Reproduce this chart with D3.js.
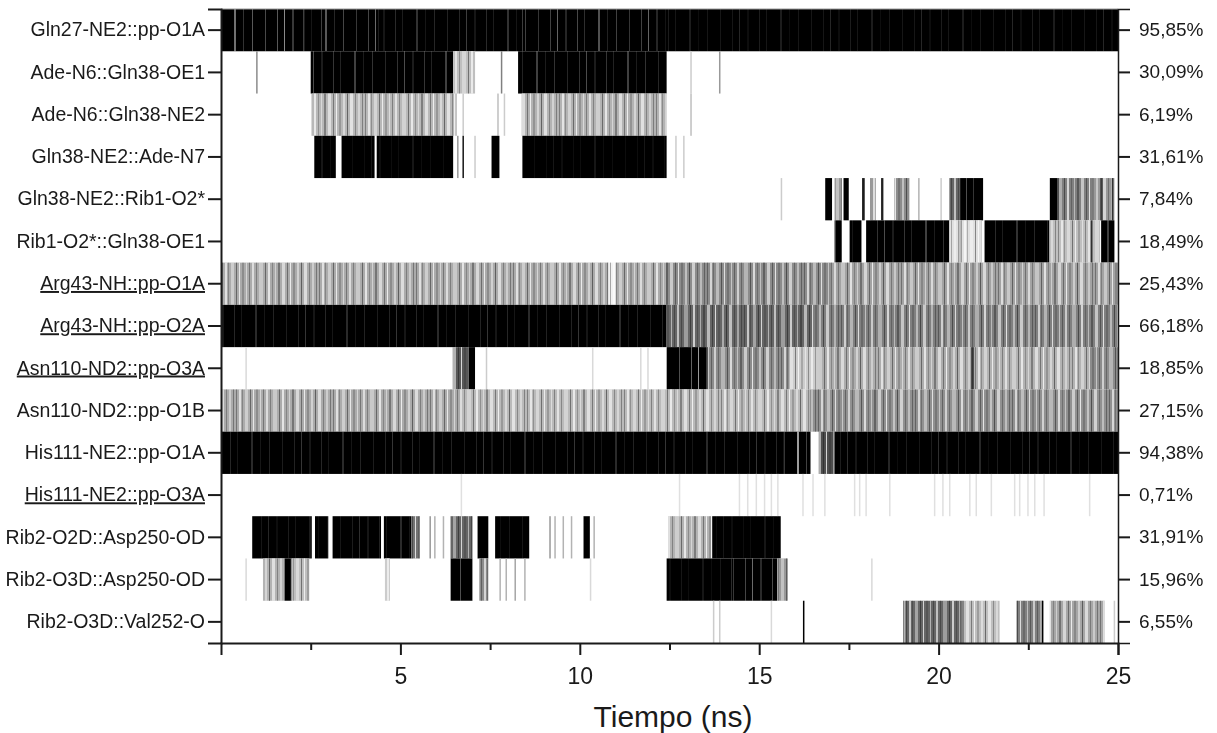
<!DOCTYPE html>
<html><head><meta charset="utf-8">
<script src="https://cdn.jsdelivr.net/npm/d3@7"></script>
<style>
body{margin:0;background:#fff;}
svg{display:block;}
text{font-family:"Liberation Sans", Arial, sans-serif;fill:#1a1a1a;}
</style>
</head><body>
<svg id="c" width="1217" height="733"></svg>
<script>
// ---------------- data ----------------
const rowLabels = [
  "Gln27-NE2::pp-O1A", "Ade-N6::Gln38-OE1", "Ade-N6::Gln38-NE2", "Gln38-NE2::Ade-N7",
  "Gln38-NE2::Rib1-O2*", "Rib1-O2*::Gln38-OE1", "Arg43-NH::pp-O1A", "Arg43-NH::pp-O2A",
  "Asn110-ND2::pp-O3A", "Asn110-ND2::pp-O1B", "His111-NE2::pp-O1A", "His111-NE2::pp-O3A",
  "Rib2-O2D::Asp250-OD", "Rib2-O3D::Asp250-OD", "Rib2-O3D::Val252-O"
];
const rowPercents = [
  "95,85%", "30,09%", "6,19%", "31,61%", "7,84%", "18,49%", "25,43%", "66,18%",
  "18,85%", "27,15%", "94,38%", "0,71%", "31,91%", "15,96%", "6,55%"
];
const underlinedRows = [6, 7, 8, 11];

// occupied intervals per row: [start ns, end ns, darkness 0..1]
const rowSegments = [
  [[0,2.3,0.82],[2.3,2.8,0.95],[2.8,4.4,0.86],[4.4,8.4,0.92],[8.4,12.4,0.87],[12.4,25,0.95]],
  [[2.5,6.47,0.9],[6.47,7.08,0.25],[8.28,12.42,0.9]],
  [[2.53,6.5,0.28],[8.38,12.42,0.3]],
  [[2.6,3.2,0.96],[3.36,4.28,0.97],[4.34,6.47,0.97],[7.54,7.76,0.85],[8.4,12.42,0.97]],
  [[16.84,17.03,0.9],[17.1,17.3,0.4],[17.35,17.5,0.9],[17.87,17.94,0.9],[18.1,18.25,0.4],[18.4,18.46,0.9],
   [18.77,19.19,0.45],[20.3,20.6,0.6],[20.6,21.24,0.85],[23.1,23.35,0.85],[23.35,24.3,0.5],[24.3,24.9,0.4]],
  [[17.1,17.3,0.9],[17.52,17.85,0.95],[17.98,20.3,0.9],[20.3,21.2,0.12],[21.28,23.09,0.92],[23.09,24.5,0.25],[24.53,24.9,0.9]],
  [[0,10.8,0.33],[10.8,11.0,0.05],[11.0,12.4,0.33],[12.4,17.0,0.45],[17.0,25,0.36]],
  [[0,12.42,0.93],[12.42,16.5,0.6],[16.5,25,0.5]],
  [[6.46,6.9,0.65],[6.9,7.08,0.9],[12.42,13.57,0.8],[13.57,15.85,0.45],[15.85,16.64,0.2],[16.64,20.9,0.32],
   [20.9,21.0,0.7],[21.0,24.2,0.3],[24.2,25,0.45]],
  [[0,6.7,0.33],[6.7,16.4,0.27],[16.4,25,0.43]],
  [[0,15.7,0.93],[15.7,16.43,0.75],[16.66,17.1,0.7],[17.1,25,0.94]],
  [],
  [[0.87,2.53,0.95],[2.62,2.99,0.95],[3.11,4.46,0.94],[4.54,5.31,0.93],[5.31,5.54,0.55],[6.4,7.01,0.6],
   [7.15,7.45,0.95],[7.64,8.59,0.95],[10.1,10.28,0.85],[12.46,13.66,0.3],[13.69,15.6,0.97]],
  [[1.17,1.78,0.3],[1.78,1.97,0.95],[1.97,2.46,0.25],[4.57,4.71,0.2],[6.4,7.01,0.8],[7.2,7.45,0.45],
   [12.42,14.22,0.96],[14.22,15.5,0.86],[15.5,15.8,0.4]],
  [[19.01,19.07,0.3],[19.07,20.65,0.6],[20.65,21.7,0.25],[22.17,22.91,0.5],[23.1,24.63,0.35]]
];

// isolated short contacts per row: [time ns, darkness]
const rowEvents = [
  [],
  [[1.0,0.45],[7.82,0.5],[13.1,0.2],[13.9,0.4]],
  [[6.55,0.3],[6.75,0.2],[7.72,0.25],[7.9,0.2],[13.1,0.25]],
  [[6.6,0.4],[6.75,0.9],[7.08,0.2],[12.68,0.2],[12.9,0.2]],
  [[15.62,0.2],[19.45,0.3],[20.07,0.2],[24.55,0.8],[24.85,0.8]],
  [[20.6,0.3],[24.26,0.8]],
  [],
  [],
  [[0.7,0.15],[7.4,0.2],[10.36,0.15],[11.7,0.15],[11.9,0.15]],
  [],
  [],
  [[6.7,0.12],[12.78,0.12],[14.45,0.12],[14.68,0.12],[14.92,0.12],[15.15,0.12],[15.34,0.12],[15.52,0.12],
   [16.22,0.12],[16.5,0.12],[16.83,0.12],[17.66,0.12],[17.8,0.12],[17.98,0.12],[18.64,0.12],[19.89,0.12],
   [20.12,0.12],[20.31,0.12],[20.87,0.12],[21.05,0.12],[21.47,0.12],[22.12,0.12],[22.26,0.12],[22.49,0.12],
   [22.68,0.12],[22.94,0.12],[24.21,0.12]],
  [[5.83,0.4],[5.96,0.3],[6.2,0.3],[9.17,0.4],[9.31,0.3],[9.54,0.3],[9.77,0.3],[10.4,0.3]],
  [[0.7,0.15],[7.78,0.3],[7.95,0.3],[8.2,0.35],[8.47,0.3],[10.3,0.15],[18.14,0.15]],
  [[13.73,0.2],[13.9,0.2],[15.34,0.15],[16.24,1.0],[22.9,1.0],[24.9,0.2]]
];

const xDomain = [0, 25];
const xMajorTicks = [5, 10, 15, 20, 25];
const xMinorTicks = [2.5, 7.5, 12.5, 17.5, 22.5];
const xTitle = "Tiempo (ns)";

// ---------------- drawing ----------------
const svg = d3.select("#c");
const L = 221, R = 1118, T = 9, B = 643;
const x = d3.scaleLinear().domain(xDomain).range([L, R]);
const y = d3.scaleBand().domain(d3.range(rowLabels.length)).range([T, B]).padding(0);
const grey = d => { const g = Math.round(255 * (1 - d)); return `rgb(${g},${g},${g})`; };

// texture patterns (purely visual styling)
const defs = svg.append("defs");
defs.append("filter").attr("id", "soft").attr("x", "-1%").attr("width", "102%")
  .append("feGaussianBlur").attr("stdDeviation", "0.6 0");
const wLines = [[4,1,.55],[11,1,.85],[19,2,.35],[31,1,.6],[38,1,.4],[52,2,.7],[61,1,.3],[70,1,.55],[83,1,.45]];
const mLines = [[0,1,"#000",.35],[3,2,"#fff",.7],[6,1,"#000",.25],[9,3,"#fff",.45],[14,1,"#000",.45],
  [17,1,"#fff",.8],[20,2,"#000",.2],[24,1,"#fff",.55],[27,1,"#000",.35],[30,2,"#fff",.65],[34,1,"#000",.3],
  [37,4,"#fff",.4],[43,1,"#000",.45],[46,2,"#fff",.75],[50,1,"#000",.25],[53,1,"#fff",.5],[56,2,"#000",.35],
  [60,3,"#fff",.6],[65,1,"#000",.4],[68,1,"#fff",.85],[71,2,"#000",.2],[75,2,"#fff",.5],[79,1,"#000",.5],
  [82,3,"#fff",.65],[87,1,"#000",.3],[90,2,"#fff",.45],[94,1,"#000",.35]];
rowLabels.forEach((_, i) => {
  const pw = defs.append("pattern").attr("id", "w" + i).attr("patternUnits", "userSpaceOnUse")
    .attr("width", 91).attr("height", 800).attr("patternTransform", `translate(${i * 29},0)`);
  wLines.forEach(l => pw.append("rect").attr("x", l[0]).attr("width", l[1]).attr("height", 800)
    .attr("fill", "#fff").attr("opacity", l[2]));
  const pm = defs.append("pattern").attr("id", "m" + i).attr("patternUnits", "userSpaceOnUse")
    .attr("width", 97).attr("height", 800).attr("patternTransform", `translate(${i * 37},0)`);
  mLines.forEach(l => pm.append("rect").attr("x", l[0]).attr("width", l[1]).attr("height", 800)
    .attr("fill", l[2]).attr("opacity", l[3]));
});

const plot = svg.append("g").attr("filter", "url(#soft)");
const rows = plot.selectAll("g").data(rowLabels).join("g");
rows.each(function(_, i) {
  const g = d3.select(this);
  const y0 = y(i), h = y.bandwidth();
  rowSegments[i].forEach(s => {
    const xa = x(s[0]), wd = Math.max(1, x(s[1]) - x(s[0]));
    const dark = s[2] >= 0.75;
    g.append("rect").attr("x", xa).attr("y", y0).attr("width", wd).attr("height", h)
      .attr("fill", dark ? "#000" : grey(s[2]));
    g.append("rect").attr("x", xa).attr("y", y0).attr("width", wd).attr("height", h)
      .attr("fill", dark ? `url(#w${i})` : `url(#m${i})`)
      .attr("opacity", dark ? Math.min(1, (1 - s[2]) * 3.5) : 0.9);
  });
  rowEvents[i].forEach(e => {
    g.append("rect").attr("x", x(e[0]) - 0.75).attr("y", y0).attr("width", 1.5).attr("height", h)
      .attr("fill", grey(e[1]));
  });
});

// frame top
svg.append("line").attr("x1", L).attr("x2", R).attr("y1", T).attr("y2", T)
  .attr("stroke", "#999").attr("stroke-width", 1);

// left axis
const yl = svg.append("g").attr("transform", `translate(${L},0)`)
  .call(d3.axisLeft(y).tickSize(13).tickPadding(3).tickFormat(i => rowLabels[i]));
yl.selectAll("text").attr("font-size", 19.5)
  .style("text-decoration", i => underlinedRows.includes(i) ? "underline" : "none");
// right axis
const yr = svg.append("g").attr("transform", `translate(${R},0)`)
  .call(d3.axisRight(y).tickSize(12).tickPadding(9).tickFormat(i => rowPercents[i]));
yr.selectAll("text").attr("font-size", 19);
// bottom axis
const xb = svg.append("g").attr("transform", `translate(0,${B})`)
  .call(d3.axisBottom(x).tickValues(xMajorTicks).tickSize(12).tickPadding(13).tickFormat(d3.format("d")));
xb.selectAll("text").attr("font-size", 23);
svg.append("g").attr("transform", `translate(0,${B})`)
  .call(d3.axisBottom(x).tickValues(xMinorTicks).tickSize(7).tickFormat(""))
  .select(".domain").remove();

[yl, yr, xb].forEach(a => {
  a.select(".domain").attr("stroke", "#1a1a1a").attr("stroke-width", 2);
});
yr.select(".domain").attr("stroke-width", 1.5);
svg.selectAll(".tick line").attr("stroke", "#1a1a1a").attr("stroke-width", 2);

svg.append("text").attr("x", 673).attr("y", 727).attr("text-anchor", "middle")
  .attr("font-size", 30).text(xTitle);
</script>
</body></html>
